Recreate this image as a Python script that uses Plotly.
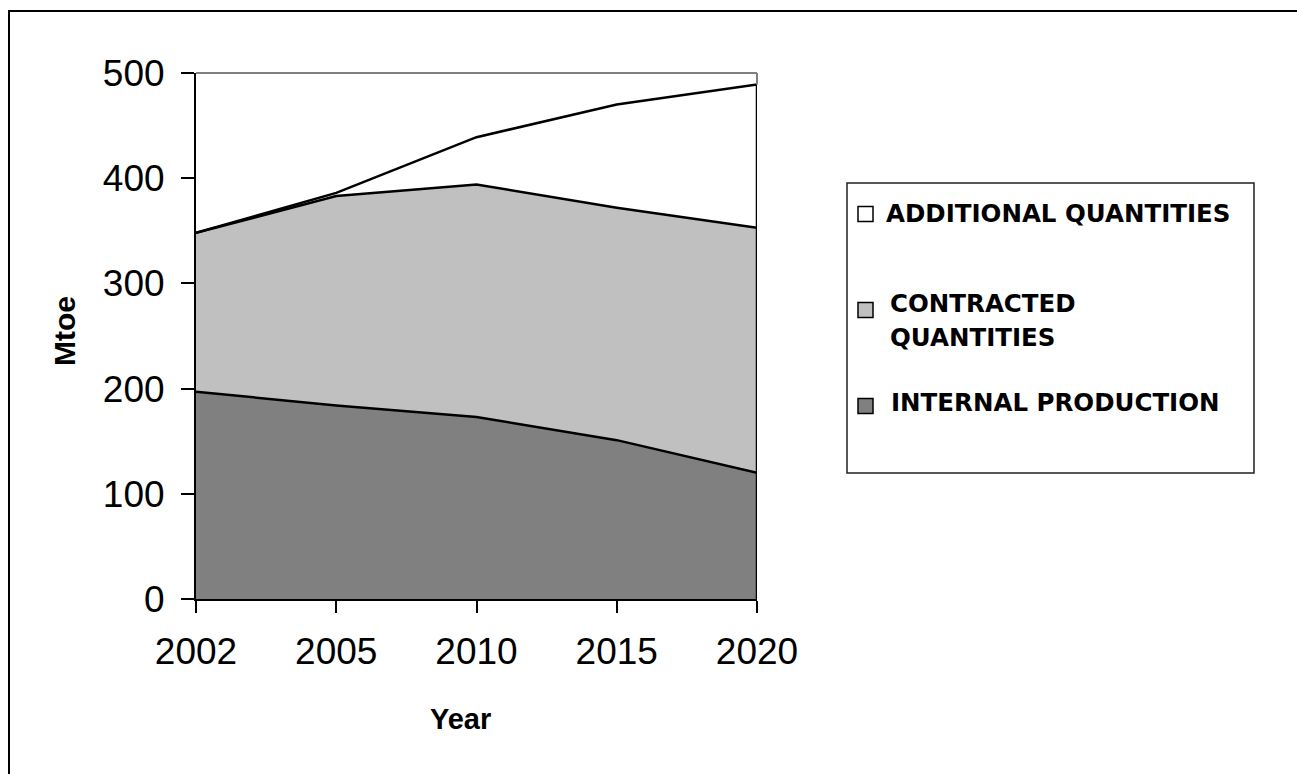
import plotly.graph_objects as go

years = ["2002", "2005", "2010", "2015", "2020"]
internal_production = [197, 184, 173, 151, 120]
contracted_quantities = [151, 199, 221, 221, 233]
additional_quantities = [0, 3, 45, 98, 136]
y_ticks = [0, 100, 200, 300, 400, 500]

series_names = ["INTERNAL PRODUCTION", "CONTRACTED QUANTITIES", "ADDITIONAL QUANTITIES"]
series_values = [internal_production, contracted_quantities, additional_quantities]
fills = ["#808080", "#c0c0c0", "#ffffff"]

W, H = 1297, 774
L, R, T, B = 196, 757, 73, 599
pw, ph = R - L, B - T

def px(x):
    return (x - L) / pw

def py(y):
    return (B - y) / ph

FONT = "Arial, Liberation Sans, sans-serif"
LEGFONT = "DejaVu Sans, Arial, sans-serif"

fig = go.Figure()
for name, vals, col in zip(series_names, series_values, fills):
    fig.add_trace(go.Scatter(
        x=years, y=vals, name=name, mode="lines", stackgroup="one",
        line=dict(color="black", width=2.5), fillcolor=col, showlegend=False,
        hoverinfo="x+y+name",
    ))

total_last = internal_production[-1] + contracted_quantities[-1] + additional_quantities[-1]
fig.add_trace(go.Scatter(
    x=[years[-1], years[-1]], y=[0, total_last], mode="lines",
    line=dict(color="black", width=2.5), showlegend=False, hoverinfo="skip",
))

shapes = []
# outer chart frame
shapes.append(dict(type="rect", xref="paper", yref="paper",
                   x0=px(9), x1=px(1305), y0=py(11), y1=py(785),
                   line=dict(color="black", width=2), fillcolor="rgba(0,0,0,0)", layer="below"))
# plot area top border (gray)
shapes.append(dict(type="line", xref="paper", yref="paper",
                   x0=0, x1=1, y0=1, y1=1, line=dict(color="#808080", width=2)))
shapes.append(dict(type="line", xref="paper", yref="paper",
                   x0=1, x1=1, y0=py(B - total_last * ph / 500), y1=1, line=dict(color="#808080", width=2)))
# legend box
shapes.append(dict(type="rect", xref="paper", yref="paper",
                   x0=px(847), x1=px(1254), y0=py(473), y1=py(183),
                   line=dict(color="#202020", width=1.5), fillcolor="white"))

annotations = []
legend_items = [
    ("ADDITIONAL QUANTITIES", "#ffffff", 214, [(884, 213, "ADDITIONAL QUANTITIES")]),
    ("CONTRACTED QUANTITIES", "#c0c0c0", 310, [(888, 303, "CONTRACTED"), (888, 338, "QUANTITIES")]),
    ("INTERNAL PRODUCTION", "#808080", 406, [(889, 403, "INTERNAL PRODUCTION")]),
]
for _, col, sy, lines in legend_items:
    shapes.append(dict(type="rect", xref="paper", yref="paper",
                       x0=px(858), x1=px(873), y0=py(sy + 7.5), y1=py(sy - 7.5),
                       line=dict(color="black", width=1.5), fillcolor=col))
    for tx, ty, txt in lines:
        annotations.append(dict(xref="paper", yref="paper", x=px(tx), y=py(ty),
                                text="<b>%s</b>" % txt, showarrow=False,
                                xanchor="left", yanchor="middle",
                                font=dict(family=LEGFONT, size=24.5, color="black")))

annotations.append(dict(xref="paper", yref="paper", x=px(460), y=py(719),
                        text="<b>Year</b>", showarrow=False, xanchor="center", yanchor="middle",
                        font=dict(family=FONT, size=29, color="black")))
annotations.append(dict(xref="paper", yref="paper", x=px(64), y=py(331),
                        text="<b>Mtoe</b>", showarrow=False, xanchor="center", yanchor="middle",
                        textangle=-90, font=dict(family=FONT, size=30, color="black")))

fig.update_layout(
    width=W, height=H,
    margin=dict(l=L, r=W - R, t=T, b=H - B, pad=0),
    paper_bgcolor="white", plot_bgcolor="white",
    showlegend=False,
    shapes=shapes, annotations=annotations,
    font=dict(family=FONT, color="black"),
    xaxis=dict(type="category", range=[0, len(years) - 1], showgrid=False, zeroline=False,
               showline=True, linecolor="black", linewidth=2,
               ticks="outside", ticklen=12, tickwidth=2, tickcolor="black",
               tickfont=dict(family=FONT, size=37, color="black"), ticklabelstandoff=7),
    yaxis=dict(range=[0, 500], tickvals=y_ticks, showgrid=False, zeroline=False,
               showline=True, linecolor="black", linewidth=2,
               ticks="outside", ticklen=13, tickwidth=2, tickcolor="black",
               tickfont=dict(family=FONT, size=37, color="black"), ticklabelstandoff=9),
)

fig.write_html("out.html")
